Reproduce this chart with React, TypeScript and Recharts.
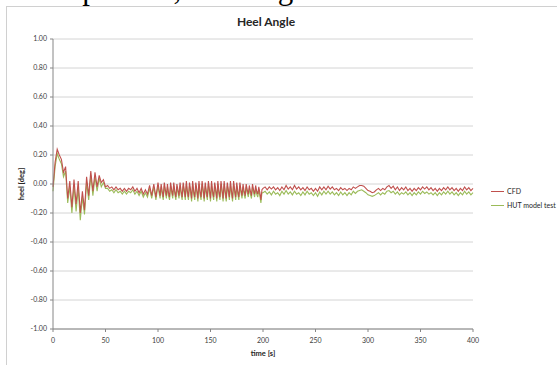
import React from 'react';
import { LineChart, Line, XAxis, YAxis, CartesianGrid } from 'recharts';

// CFD heel angle [deg], t = 0..50 every 2 s
const cfdStart = [-0.02, 0.15, 0.24, 0.20, 0.17, 0.08, 0.12, -0.10, 0.02, -0.16, 0.03, -0.14, 0.02, -0.20, -0.05, -0.18, 0.05, -0.08, 0.09, -0.05, 0.08, -0.02, 0.06, 0.01, 0.03, -0.02];
// t = 52..100 every 2 s
const cfdCalm = [-0.01, -0.03, -0.02, -0.04, -0.02, -0.04, -0.03, -0.05, -0.03, -0.05, -0.03, -0.04, -0.02, -0.05, -0.03, -0.06, -0.03, -0.07, -0.04, -0.07, -0.01, -0.08, 0.00, -0.09, 0.01];
// t = 101..200 every 1 s
const cfdOsc = [
  -0.04, -0.08, 0.00, -0.05, -0.09, 0.01, -0.04, -0.08, 0.00, -0.06,
  -0.09, 0.01, -0.04, -0.08, 0.01, -0.05, -0.09, 0.00, -0.04, -0.08,
  0.01, -0.05, -0.09, 0.01, -0.04, -0.09, 0.02, -0.05, -0.09, 0.01,
  -0.04, -0.10, 0.02, -0.05, -0.09, 0.01, -0.04, -0.10, 0.02, -0.05,
  -0.09, 0.02, -0.04, -0.10, 0.01, -0.05, -0.09, 0.02, -0.04, -0.10,
  0.02, -0.05, -0.09, 0.01, -0.04, -0.10, 0.02, -0.05, -0.09, 0.02,
  -0.04, -0.10, 0.02, -0.05, -0.10, 0.01, -0.04, -0.09, 0.02, -0.05,
  -0.10, 0.02, -0.04, -0.09, 0.01, -0.05, -0.09, 0.01, -0.04, -0.08,
  0.00, -0.05, -0.08, 0.00, -0.04, -0.07, -0.01, -0.05, -0.08, 0.00,
  -0.04, -0.07, -0.01, -0.05, -0.07, -0.02, -0.06, -0.11, -0.04, -0.03,
];
// t = 202..400 every 2 s
const cfdEnd = [
  -0.02, -0.04, -0.02, -0.035, -0.02, -0.04, -0.025, -0.045, -0.02, -0.04,
  -0.01, -0.035, -0.02, -0.04, -0.01, -0.035, -0.02, -0.04, -0.025, -0.045,
  -0.02, -0.04, -0.03, -0.05, -0.03, -0.05, -0.02, -0.04, -0.02, -0.04,
  -0.015, -0.035, -0.02, -0.04, -0.03, -0.045, -0.025, -0.04, -0.03, -0.045,
  -0.03, -0.04, -0.02, -0.03, -0.02, -0.01, -0.01, -0.015, -0.03, -0.045,
  -0.05, -0.06, -0.055, -0.04, -0.03, -0.045, -0.03, -0.04, -0.02, -0.01,
  -0.03, -0.015, -0.04, -0.02, -0.045, -0.025, -0.04, -0.02, -0.045, -0.03,
  -0.05, -0.03, -0.045, -0.025, -0.04, -0.02, -0.035, -0.02, -0.04, -0.025,
  -0.045, -0.03, -0.05, -0.03, -0.045, -0.025, -0.04, -0.02, -0.04, -0.025,
  -0.045, -0.03, -0.05, -0.03, -0.045, -0.02, -0.04, -0.025, -0.045, -0.03,
];

// HUT model test heel angle [deg], same sampling as CFD
const hutStart = [-0.05, 0.12, 0.21, 0.17, 0.14, 0.05, 0.09, -0.13, -0.02, -0.20, -0.01, -0.19, -0.03, -0.25, -0.09, -0.21, 0.01, -0.11, 0.06, -0.08, 0.05, -0.05, 0.04, -0.02, 0.01, -0.03];
const hutCalm = [-0.03, -0.05, -0.04, -0.06, -0.04, -0.06, -0.05, -0.07, -0.05, -0.07, -0.05, -0.06, -0.04, -0.07, -0.05, -0.08, -0.05, -0.09, -0.06, -0.09, -0.03, -0.10, -0.02, -0.11, -0.01];
const hutOsc = [
  -0.06, -0.10, -0.02, -0.07, -0.11, -0.01, -0.06, -0.10, -0.02, -0.08,
  -0.11, -0.01, -0.06, -0.10, -0.01, -0.07, -0.11, -0.02, -0.06, -0.10,
  -0.01, -0.07, -0.11, -0.01, -0.06, -0.11, 0.00, -0.07, -0.11, -0.01,
  -0.06, -0.12, 0.00, -0.07, -0.11, -0.01, -0.06, -0.12, 0.00, -0.07,
  -0.11, 0.00, -0.06, -0.12, -0.01, -0.07, -0.11, 0.00, -0.06, -0.12,
  0.00, -0.07, -0.11, -0.01, -0.06, -0.12, 0.00, -0.07, -0.11, 0.00,
  -0.06, -0.12, 0.00, -0.07, -0.12, -0.01, -0.06, -0.11, 0.00, -0.07,
  -0.12, 0.00, -0.06, -0.11, -0.01, -0.07, -0.11, -0.01, -0.06, -0.10,
  -0.02, -0.07, -0.10, -0.02, -0.06, -0.09, -0.03, -0.07, -0.10, -0.02,
  -0.06, -0.09, -0.03, -0.07, -0.09, -0.04, -0.08, -0.13, -0.06, -0.06,
];
const hutEnd = [
  -0.05, -0.07, -0.055, -0.075, -0.05, -0.07, -0.06, -0.08, -0.05, -0.07,
  -0.045, -0.07, -0.055, -0.075, -0.05, -0.07, -0.06, -0.08, -0.055, -0.075,
  -0.05, -0.07, -0.06, -0.08, -0.06, -0.085, -0.055, -0.075, -0.05, -0.07,
  -0.05, -0.07, -0.055, -0.075, -0.06, -0.08, -0.055, -0.075, -0.06, -0.08,
  -0.06, -0.075, -0.05, -0.065, -0.05, -0.045, -0.04, -0.05, -0.06, -0.075,
  -0.08, -0.085, -0.08, -0.07, -0.06, -0.075, -0.06, -0.07, -0.05, -0.045,
  -0.06, -0.05, -0.07, -0.055, -0.075, -0.06, -0.07, -0.055, -0.075, -0.06,
  -0.08, -0.06, -0.075, -0.055, -0.07, -0.05, -0.065, -0.055, -0.07, -0.06,
  -0.075, -0.06, -0.08, -0.06, -0.075, -0.055, -0.07, -0.05, -0.07, -0.055,
  -0.075, -0.06, -0.08, -0.06, -0.075, -0.05, -0.07, -0.055, -0.075, -0.06,
];

// segment start times and sampling steps [s]
const segmentStarts = [0, 52, 101, 202];
const segmentSteps = [2, 2, 1, 2];

const xTicks = [0, 50, 100, 150, 200, 250, 300, 350, 400];
const yTicks = [-1, -0.8, -0.6, -0.4, -0.2, 0, 0.2, 0.4, 0.6, 0.8, 1];

const cfdSegments = [cfdStart, cfdCalm, cfdOsc, cfdEnd];
const hutSegments = [hutStart, hutCalm, hutOsc, hutEnd];
const data: { t: number; cfd: number; hut: number }[] = [];
cfdSegments.forEach((seg, s) => {
  seg.forEach((v, i) => {
    data.push({ t: segmentStarts[s] + i * segmentSteps[s], cfd: v, hut: hutSegments[s][i] });
  });
});

const series = [
  { key: 'cfd', name: 'CFD', color: '#c0504d' },
  { key: 'hut', name: 'HUT model test', color: '#9bbb59' },
];
// drawing order: model test underneath, CFD on top
const drawOrder = [series[1], series[0]];

const FONT = 'Lato, "Liberation Sans", sans-serif';
const TICK = { fill: '#404040', fontSize: 7, fontFamily: FONT };

const renderYLabel = () => (
  <text
    x={21}
    y={184}
    transform="rotate(-90 21 184)"
    textAnchor="middle"
    dominantBaseline="central"
    fontFamily={FONT}
    fontSize={7.5}
    fontWeight="bold"
    fill="#262626"
  >
    heel [deg]
  </text>
);

export default function App() {
  return (
    <div style={{ position: 'absolute', left: 0, top: 0, width: 557, height: 365, overflow: 'hidden', background: '#fff' }}>
      <svg width={557} height={12} style={{ position: 'absolute', left: 0, top: 0 }}>
        <text x={22} y={-1.5} fontFamily='"Liberation Serif", serif' fontSize={31} fill="#000">
          Comparison, heel angle
        </text>
      </svg>
      <div style={{ position: 'absolute', left: 6, top: 6, width: 600, height: 400, borderLeft: '1px solid #d0d0d0', borderTop: '1px solid #d0d0d0' }} />
      <div style={{ position: 'absolute', left: 0, width: 532, top: 15, textAlign: 'center', fontFamily: FONT, fontWeight: 'bold', fontSize: 12, color: '#262626', lineHeight: '14px' }}>
        Heel Angle
      </div>
      <div style={{ position: 'absolute', left: 0, top: 0 }}>
        <LineChart width={557} height={365} data={data} margin={{ top: 39, right: 84, bottom: 0, left: 0 }}>
          <CartesianGrid vertical={false} stroke="#d4d4d4" strokeWidth={1} />
          <XAxis
            dataKey="t"
            type="number"
            domain={[0, 400]}
            ticks={xTicks}
            height={36}
            tick={TICK}
            tickSize={3}
            tickMargin={6}
            stroke="#868686"
            label={{ value: 'time [s]', position: 'insideBottom', offset: 9, fill: '#262626', fontSize: 7.5, fontWeight: 'bold', fontFamily: FONT }}
          />
          <YAxis
            type="number"
            domain={[-1, 1]}
            ticks={yTicks}
            width={53}
            tick={TICK}
            tickSize={3}
            tickMargin={3}
            stroke="#868686"
            tickFormatter={(v: number) => v.toFixed(2)}
            label={renderYLabel}
          />
          {drawOrder.map((s) => (
            <Line key={s.key} type="linear" dataKey={s.key} name={s.name} stroke={s.color} strokeWidth={1.1} dot={false} isAnimationActive={false} />
          ))}
        </LineChart>
      </div>
      <div style={{ position: 'absolute', left: 491, top: 184, fontFamily: FONT, fontSize: 7, color: '#262626' }}>
        {series.map((e) => (
          <div key={e.key} style={{ display: 'flex', alignItems: 'center', height: 14 }}>
            <span style={{ display: 'inline-block', width: 13, height: 0, borderTop: `1.5px solid ${e.color}`, marginRight: 3 }} />
            <span>{e.name}</span>
          </div>
        ))}
      </div>
    </div>
  );
}
